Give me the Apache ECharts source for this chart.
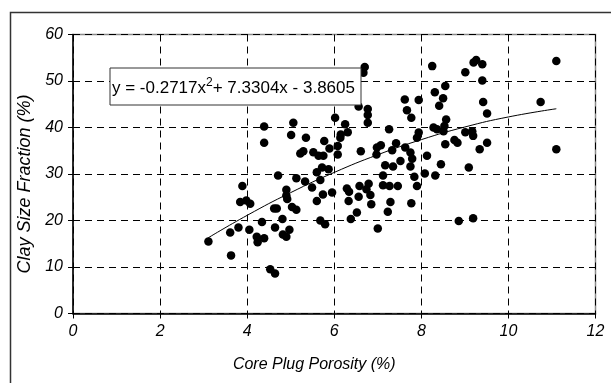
<!DOCTYPE html>
<html>
<head>
<meta charset="utf-8">
<script src="https://cdn.jsdelivr.net/npm/echarts@6/dist/echarts.min.js"></script>
<style>
html,body{margin:0;padding:0;background:#fff;}
#chart{width:611px;height:383px;}
</style>
</head>
<body>
<div id="chart"></div>
<script>
// Core plug porosity (%) and clay size fraction (%)
const porosity = [3.11,3.63,3.61,3.80,3.89,3.84,3.98,4.07,4.05,4.22,4.24,4.34,4.39,4.39,4.39,4.53,4.64,4.62,4.68,4.64,4.81,4.82,4.90,4.97,4.71,4.90,4.90,4.92,5.03,5.13,5.13,5.33,5.49,5.60,5.68,5.72,5.87,5.74,5.95,5.60,5.68,5.79,6.29,6.34,6.56,6.33,6.58,6.79,6.74,6.83,6.85,6.52,6.38,7.00,7.12,7.12,7.27,7.46,7.29,7.23,7.77,7.17,7.35,7.52,7.75,7.84,7.90,8.08,8.32,8.45,8.86,9.19,6.70,6.67,8.25,8.31,8.55,8.50,8.41,7.62,7.94,7.67,7.77,6.56,6.77,6.77,6.77,6.02,6.25,6.31,6.15,6.14,5.06,5.01,5.35,5.77,5.89,5.52,5.29,5.22,5.64,5.75,6.08,6.08,6.61,7.26,6.98,7.07,6.97,7.33,7.42,7.63,7.75,7.79,7.94,7.90,8.28,8.36,8.51,8.55,8.57,8.13,11.10,9.20,9.26,9.40,9.01,9.40,9.42,9.51,10.74,8.53,9.01,9.17,9.19,8.76,8.83,9.51,9.34,11.10,9.09];
const clay = [15.5,12.5,17.4,18.5,27.4,24.0,24.3,23.6,18.0,16.5,15.3,19.7,16.2,40.2,36.7,9.5,8.6,22.6,22.6,18.5,20.3,17.0,16.5,18.0,29.7,26.6,25.4,24.6,22.9,22.3,29.1,28.4,27.1,30.4,28.7,31.4,31.0,25.6,26.0,24.2,20.0,19.2,26.9,26.2,25.1,24.2,27.4,27.9,26.7,25.5,23.5,21.7,20.3,18.3,29.7,27.6,27.4,27.4,24.0,21.9,23.7,31.9,31.6,32.8,31.6,29.4,27.4,30.1,29.7,32.1,19.9,20.5,53.0,51.8,53.2,47.6,48.9,46.3,44.7,46.0,45.9,43.7,42.1,44.5,44.0,42.7,41.0,42.1,40.7,39.0,38.5,37.8,41.0,38.4,37.8,37.1,35.5,34.7,34.9,34.4,33.9,33.9,36.0,34.2,34.9,39.6,35.7,36.2,34.2,35.1,36.6,35.7,34.6,33.3,38.9,37.8,40.0,39.6,39.2,36.4,41.7,33.9,54.3,54.0,54.5,53.6,51.9,50.1,45.5,43.0,45.5,40.3,39.0,39.2,38.2,37.3,36.7,36.7,35.3,35.3,31.4];
// Polynomial trendline as drawn in the reference
const trendX = [3.1,4,5,6,7,8,9,10,11.1];
const trendY = [16.25,21.11,26.00,30.34,34.14,37.39,40.11,42.27,44.03];
const xTicks = [0,2,4,6,8,10,12];
const yTicks = [0,10,20,30,40,50,60];
const equationText = ['y = -0.2717x', '2', '+ 7.3304x - 3.8605'];
const xTitle = 'Core Plug Porosity (%)';
const yTitle = 'Clay Size Fraction (%)';

const chart = echarts.init(document.getElementById('chart'), null, {renderer:'canvas'});
const FONT = '"Liberation Sans", Arial, sans-serif';
const option = {
  animation: false,
  backgroundColor: '#fff',
  grid: {left: 73, top: 34.5, right: 15.5, bottom: 69.5, show: true, borderColor: '#8a8a8a', borderWidth: 1.5, backgroundColor: 'transparent'},
  xAxis: {
    type: 'value', min: xTicks[0], max: xTicks[xTicks.length-1], interval: 2,
    name: xTitle, nameLocation: 'middle', nameGap: 43,
    nameTextStyle: {fontFamily: FONT, fontStyle: 'italic', fontSize: 16, color: '#000', padding: [0, 40, 0, 0]},
    axisLine: {onZero: false, lineStyle: {color: '#000', width: 1.5}},
    axisTick: {show: true, length: 5, lineStyle: {color: '#000'}},
    axisLabel: {fontFamily: FONT, fontStyle: 'italic', fontSize: 16, color: '#000', margin: 10},
    splitLine: {show: true, lineStyle: {color: '#000', type: [7, 5], width: 1}}
  },
  yAxis: {
    type: 'value', min: yTicks[0], max: yTicks[yTicks.length-1], interval: 10,
    name: yTitle, nameLocation: 'middle', nameGap: 39,
    nameTextStyle: {fontFamily: FONT, fontStyle: 'italic', fontSize: 18, color: '#000', padding: [0, 20, 0, 0]},
    axisLine: {show: true, onZero: false, lineStyle: {color: '#000', width: 1.5}},
    axisTick: {show: true, length: 5, lineStyle: {color: '#000'}},
    axisLabel: {fontFamily: FONT, fontStyle: 'italic', fontSize: 16, color: '#000', margin: 10},
    splitLine: {show: true, lineStyle: {color: '#000', type: [7, 5], width: 1}}
  },
  series: [
    {
      type: 'line', data: trendX.map((x, i) => [x, trendY[i]]), smooth: true,
      showSymbol: false, lineStyle: {color: '#000', width: 1}, z: 2, silent: true
    },
    {
      type: 'scatter', data: porosity.map((x, i) => [x, clay[i]]),
      symbol: 'circle', symbolSize: 8.5, itemStyle: {color: '#000', opacity: 1}, z: 3
    }
  ],
  graphic: [
    {type: 'rect', left: 8, top: 10, shape: {width: 700, height: 500}, style: {fill: 'none', stroke: '#333', lineWidth: 1.5}, z: 0, silent: true},
    {type: 'rect', z: 100, x: 110, y: 68, shape: {x: 0, y: 0, width: 251, height: 37}, style: {fill: '#fff', stroke: '#333', lineWidth: 1}},
    {type: 'text', z: 101, x: 112, y: 88, style: {
        text: '{a|' + equationText[0] + '}{s|' + equationText[1] + '}{a|' + equationText[2] + '}',
        verticalAlign: 'middle', align: 'left',
        rich: {
          a: {fontFamily: FONT, fontSize: 17, fill: '#000', color: '#000', lineHeight: 22},
          s: {fontFamily: FONT, fontSize: 12, fill: '#000', color: '#000', lineHeight: 22, verticalAlign: 'top', padding: [0, 0, 9, 0]}
        }
    }}
  ]
};
chart.setOption(option);
</script>
</body>
</html>
